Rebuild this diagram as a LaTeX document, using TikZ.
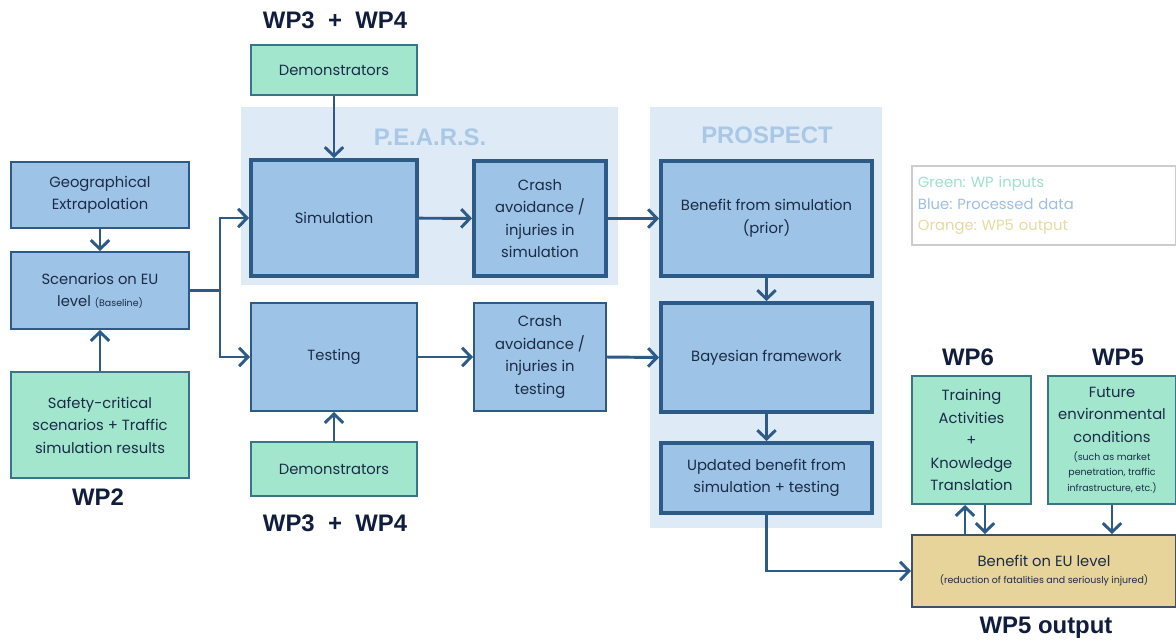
\documentclass[tikz,border=0pt]{standalone}
\usepackage{fontspec}
\setmainfont{Poppins}
\newfontfamily\headfont{Liberation Sans}
\usetikzlibrary{arrows.meta}
\frenchspacing

\definecolor{boxblue}{HTML}{9DC3E6}
\definecolor{lineblue}{HTML}{2E5A87}
\definecolor{boxgreen}{HTML}{A2E6CD}
\definecolor{greenline}{HTML}{3A7488}
\definecolor{boxorange}{HTML}{E6D49A}
\definecolor{orangeline}{HTML}{3E5168}
\definecolor{areablue}{HTML}{DEEAF6}
\definecolor{areatext}{HTML}{A8C8E6}
\definecolor{boxtext}{HTML}{1B2B47}
\definecolor{wptext}{HTML}{111D3C}
\definecolor{leggreen}{HTML}{9EE0C8}
\definecolor{legblue}{HTML}{9DBEE6}
\definecolor{legorange}{HTML}{E8D9A0}

\tikzset{
	base/.style={rectangle, line width=1.4pt, text=boxtext, align=center,
		font=\fontsize{10.5}{16}\selectfont, inner sep=2pt},
	procbox/.style={base, draw=lineblue, fill=boxblue},
	corebox/.style={procbox, line width=2.8pt},
	inbox/.style={base, draw=greenline, fill=boxgreen},
	outbox/.style={base, draw=orangeline, fill=boxorange},
	flow/.style={draw=lineblue, line width=2.1pt,
		-{Straight Barb[length=2.2mm,width=4.6mm]}},
	wp/.style={font=\headfont\bfseries\fontsize{17}{20}\selectfont, text=wptext},
	area/.style={fill=areablue, draw=none},
	arealabel/.style={font=\headfont\bfseries\fontsize{17}{20}\selectfont, text=areatext},
}
\newcommand{\smalltxt}[1]{{\fontsize{6.7}{11}\selectfont #1}}

\begin{document}
\begin{tikzpicture}[x=0.025cm, y=-0.025cm]
	\useasboundingbox (0,0) rectangle (1176,641);
	
	% shaded areas behind the two tools
	\fill[area] (241,107) rectangle (618,285);
	\fill[area] (650,107) rectangle (882,528);
	\node[arealabel] (pears)    at (430,137) {P.E.A.R.S.};
	\node[arealabel] (prospect) at (767,135) {PROSPECT};
	
	% left column
	\node[procbox, minimum width=4.45cm, minimum height=1.65cm]  (geo)    at (100,195)   {Geographical\\Extrapolation};
	\node[procbox, minimum width=4.45cm, minimum height=1.925cm] (scen)   at (100,290.5) {Scenarios on EU\\level \smalltxt{(Baseline)}};
	\node[inbox,   minimum width=4.45cm, minimum height=2.65cm]  (safety) at (100,425)   {Safety-critical\\scenarios + Traffic\\simulation results};
	\node[wp] (wp2) at (98,497) {WP2};
	
	% simulation and testing
	\node[wp] (wpsim) at (335,20) {WP3~~+~~WP4};
	\node[inbox,   minimum width=4.15cm, minimum height=1.25cm]  (demosim)  at (334,70)    {Demonstrators};
	\node[corebox, minimum width=4.15cm, minimum height=2.9cm]   (sim)      at (334,218)   {Simulation};
	\node[corebox, minimum width=3.3cm,  minimum height=2.875cm] (crashsim) at (540,218.5) {Crash\\avoidance /\\injuries in\\simulation};
	\node[procbox, minimum width=4.15cm, minimum height=2.7cm]   (test)     at (334,357)   {Testing};
	\node[procbox, minimum width=3.3cm,  minimum height=2.7cm]   (crashtst) at (540,357)   {Crash\\avoidance /\\injuries in\\testing};
	\node[inbox,   minimum width=4.15cm, minimum height=1.35cm]  (demotst)  at (334,469)   {Demonstrators};
	\node[wp] (wptst) at (335,523) {WP3~~+~~WP4};
	
	% PROSPECT column
	\node[corebox, minimum width=5.275cm, minimum height=2.875cm] (prior)   at (766.5,218.5) {Benefit from simulation\\(prior)};
	\node[corebox, minimum width=5.275cm, minimum height=2.725cm] (bayes)   at (766.5,357.5) {Bayesian framework};
	\node[corebox, minimum width=5.275cm, minimum height=1.75cm]  (updated) at (766.5,478)   {Updated benefit from\\simulation + testing};
	
	% legend
	\node[rectangle, draw=black!20, line width=0.8pt, minimum width=6.6cm, minimum height=1.975cm,
		text width=6.3cm, align=left, font=\fontsize{10.5}{15.5}\selectfont] (legend) at (1044,205.5)
		{\textcolor{leggreen}{Green: WP inputs}\\\textcolor{legblue}{Blue: Processed data}\\\textcolor{legorange}{Orange: WP5 output}};
	
	% right part
	\node[wp] (wp6) at (968,357)  {WP6};
	\node[wp] (wp5) at (1118,357) {WP5};
	\node[inbox,  minimum width=2.975cm, minimum height=3.2cm] (train)  at (971.5,440) {Training\\Activities\\+\\Knowledge\\Translation};
	\node[inbox,  minimum width=3.2cm,   minimum height=3.2cm] (future) at (1112,440)  {Future\\environmental\\conditions\\[-3pt]\smalltxt{(such as market}\\[-5pt]\smalltxt{penetration, traffic}\\[-5pt]\smalltxt{infrastructure, etc.)}};
	\node[outbox, minimum width=6.6cm,   minimum height=1.8cm] (euben)  at (1044,571)  {Benefit on EU level\\[-4pt]\smalltxt{(reduction of fatalities and seriously injured)}};
	\node[wp] (wp5out) at (1046,628) {WP5 output};
	
	% connectors
	\coordinate (split) at (220,290.5);
	\coordinate (tup)   at (965,0);
	\coordinate (tdown) at (985,0);
	
	\draw[flow] (geo) -- (scen);
	\draw[flow] (safety) -- (scen);
	\draw[line width=2.1pt, draw=lineblue] (scen.east) -- (split);
	\draw[flow] (split) |- (sim.west);
	\draw[flow] (split) |- (test.west);
	\draw[flow] (demosim) -- (sim);
	\draw[flow] (demotst) -- (test);
	\draw[flow] (sim) -- (crashsim);
	\draw[flow] (test) -- (crashtst);
	\draw[flow] (crashsim.east) -- (prior.west);
	\draw[flow] (crashtst.east) -- (bayes.west);
	\draw[flow] (prior) -- (bayes);
	\draw[flow] (bayes) -- (updated);
	\draw[flow] (updated.south) |- (euben.west);
	\draw[flow] (tup |- euben.north) -- (tup |- train.south);
	\draw[flow] (tdown |- train.south) -- (tdown |- euben.north);
	\draw[flow] (future.south) -- (future.south |- euben.north);
\end{tikzpicture}
\end{document}
